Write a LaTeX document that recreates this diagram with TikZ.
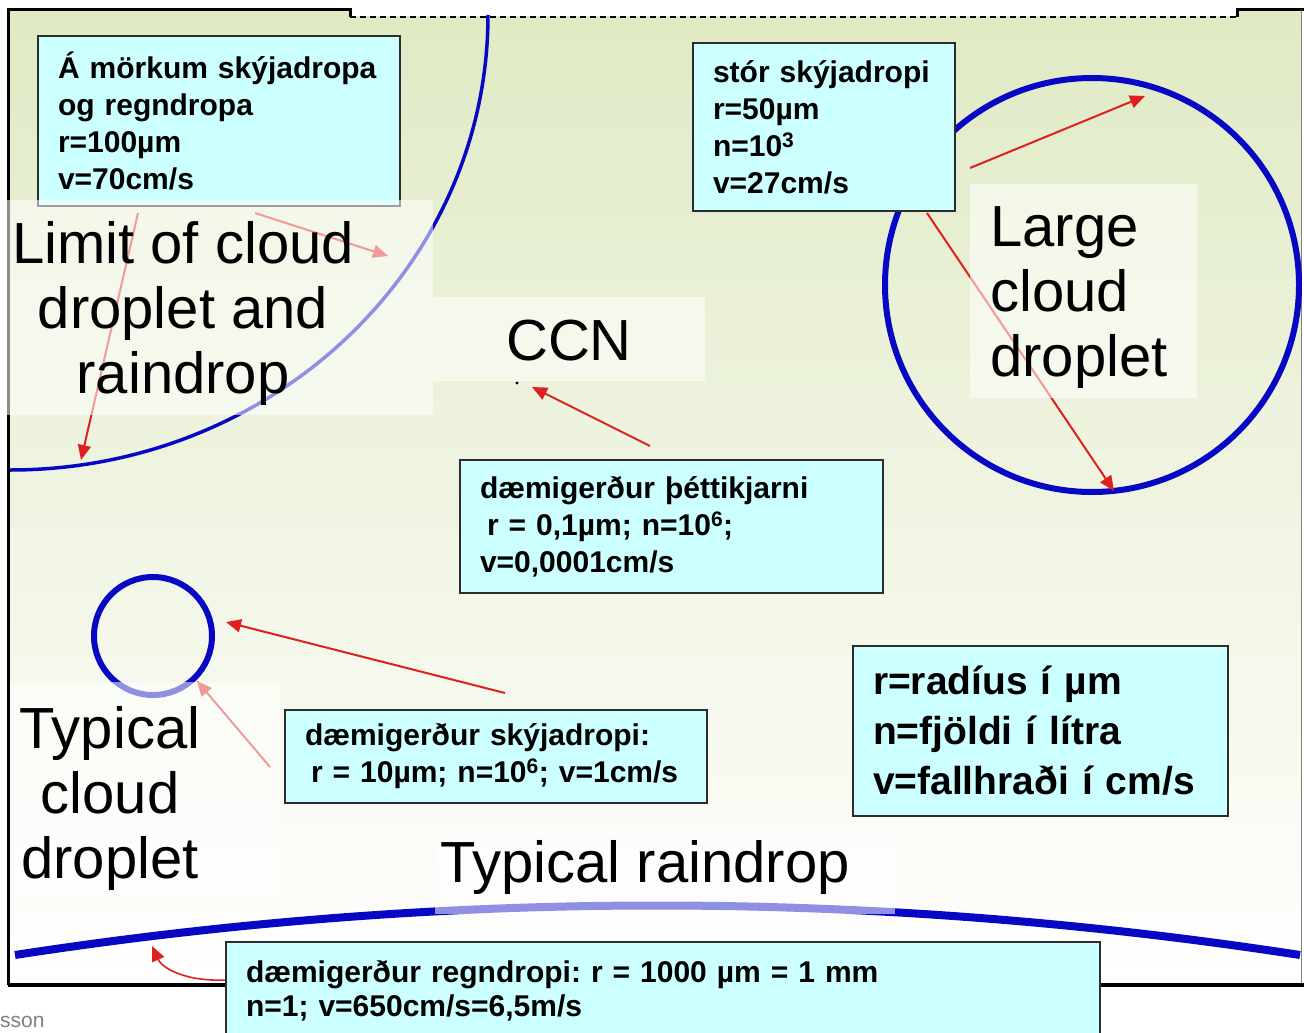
\documentclass[tikz,border=0pt]{standalone}
\usepackage{fontspec}
\setmainfont{Liberation Sans}
\usetikzlibrary{arrows.meta}
\definecolor{bgtop}{RGB}{224,234,196}
\definecolor{cyanbox}{RGB}{204,255,255}
\definecolor{dropblue}{RGB}{8,8,196}
\definecolor{arrowred}{RGB}{222,32,32}
\definecolor{boxedge}{RGB}{45,45,45}
\newcommand\ctrline[1]{\hbox to 0pt{\hss #1\hss}}
\frenchspacing
\begin{document}
\begin{tikzpicture}[x=1pt,y=-1pt,
  infobox/.style={draw=boxedge, line width=2pt, fill=cyanbox, rectangle, inner xsep=20pt, inner ysep=0pt, align=left, font=\fontsize{30}{37}\selectfont\bfseries},
  ptr/.style={draw=arrowred, line width=2pt, -{Triangle[length=15pt,width=13pt]}},
  drop/.style={draw=dropblue},
  veil/.style={fill=white, fill opacity=0.55},
  biglabel/.style={font=\fontsize{58}{65}\selectfont, inner sep=0pt}]
\useasboundingbox (0,0) rectangle (1304,1033);
% background and frame
\fill[white] (0,0) rectangle (1304,1033);
\shade[top color=bgtop, bottom color=white] (8,10) rectangle (1301,985);
\fill[white] (351,0) rectangle (1236,16);
\draw[line width=3pt] (8,985) -- (8,10) -- (350,10) -- (350,17);
\draw[line width=1.3pt, dash pattern=on 6pt off 4pt] (350,17) -- (1237,17);
\draw[line width=3pt] (1237,17) -- (1237,10) -- (1304,10);
\draw[gray, line width=1pt] (1301,10) -- (1301,985);
\draw[line width=4pt] (8,985) -- (1304,985);
% drops
\draw[drop, line width=3.5pt] (488,15) .. controls (488,266) and (274,470) .. (10,470);
\draw[drop, line width=6pt] (1092,285) circle [radius=207];
\draw[drop, line width=6pt] (153,636) circle [radius=59];
\draw[drop, line width=8pt] (15,955) .. controls (443,889) and (871,889) .. (1300,955);
% arrow ends
\coordinate (t1) at (138,213); \coordinate (h1) at (81,460);
\coordinate (t2) at (255,213); \coordinate (h2) at (388,256);
\coordinate (t3) at (650,446); \coordinate (h3) at (532,387);
\coordinate (t4) at (970,168); \coordinate (h4) at (1145,96);
\coordinate (t5) at (927,213); \coordinate (h5) at (1114,491);
\coordinate (t6) at (505,693); \coordinate (h6) at (226,622);
\coordinate (t7) at (270,767); \coordinate (h7) at (197,681);
\coordinate (t8) at (228,980); \coordinate (h8) at (152,946);
\draw[ptr] (t1) -- (h1);
\draw[ptr] (t2) -- (h2);
\draw[ptr] (t3) -- (h3);
\draw[ptr] (t4) -- (h4);
\draw[ptr] (t5) -- (h5);
\draw[ptr] (t6) -- (h6);
\draw[ptr] (t7) -- (h7);
\draw[ptr, line width=1.6pt] (t8) .. controls (185,982) and (162,968) .. (h8);
\fill (517,383) circle [radius=1.6];
% info boxes
\node[infobox, minimum width=362pt, minimum height=169pt, text width=322pt] (b1) at (219,121)
  {Á mörkum skýjadropa\\og regndropa\\r=100µm\\v=70cm/s};
\node[infobox, minimum width=262pt, minimum height=168pt, text width=222pt] (b2) at (824,127)
  {stór skýjadropi\\r=50µm\\n=10\textsuperscript{3}\\v=27cm/s};
\node[infobox, minimum width=423pt, minimum height=133pt, text width=383pt] (b3) at (671.5,526.5)
  {dæmigerður þéttikjarni\\\hspace*{7pt}r = 0,1µm; n=10\textsuperscript{6};\\v=0,0001cm/s};
\node[infobox, minimum width=422pt, minimum height=93pt, text width=382pt] (b4) at (496,756.5)
  {dæmigerður skýjadropi:\\\hspace*{6pt}r = 10µm; n=10\textsuperscript{6}; v=1cm/s};
\node[infobox, minimum width=375pt, minimum height=170pt, text width=335pt, font=\fontsize{39}{50}\selectfont\bfseries] (b5) at (1040.5,731)
  {r=radíus í µm\\n=fjöldi í lítra\\v=fallhraði í cm/s};
\node[infobox, minimum width=874pt, minimum height=98pt, text width=834pt, font=\fontsize{30}{34}\selectfont\bfseries] (b6) at (663,991)
  {dæmigerður regndropi: r = 1000 µm = 1 mm\\n=1; v=650cm/s=6,5m/s};
% veils behind the English labels
\fill[veil] (5,200) rectangle (433,415);
\fill[veil] (433,297) rectangle (705,381);
\fill[veil] (970,184) rectangle (1197,398);
\fill[veil] (10,682) rectangle (280,895);
\fill[veil] (435,828) rectangle (895,914);
% English labels
\node[biglabel, anchor=base] (limit) at (183,263)
  {\vtop{\ctrline{Limit of cloud}\ctrline{droplet and}\ctrline{raindrop}}};
\node[biglabel, anchor=base] (ccn) at (569,360) {CCN};
\node[biglabel, anchor=base west] (large) at (990,246)
  {\vtop{\hbox{Large}\hbox{cloud}\hbox{droplet}}};
\node[biglabel, anchor=base] (typcloud) at (110,748)
  {\vtop{\ctrline{Typical}\ctrline{cloud}\ctrline{droplet}}};
\node[biglabel, anchor=base] (typrain) at (645,882) {Typical raindrop};
\node[anchor=base west, inner sep=0pt, text=gray, font=\fontsize{21}{21}\selectfont] (credit) at (0,1027) {sson};
\end{tikzpicture}
\end{document}
